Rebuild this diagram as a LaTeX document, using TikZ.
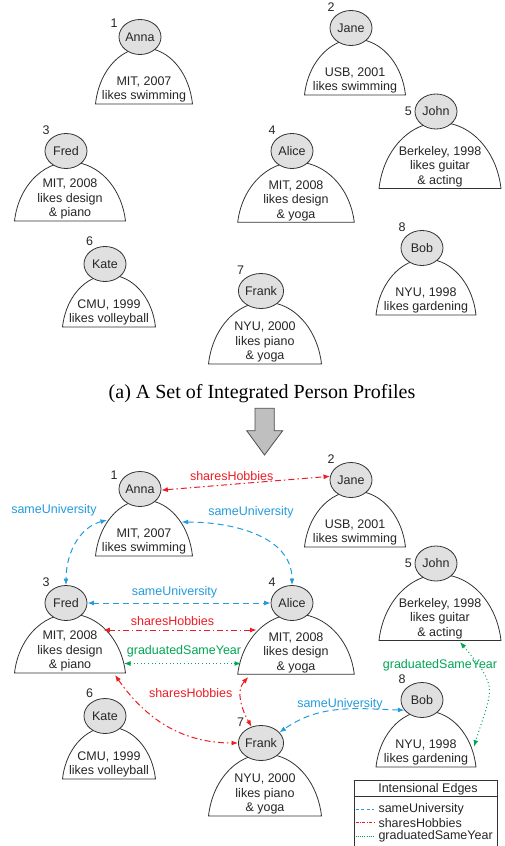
\documentclass[tikz,border=0pt]{standalone}
\usepackage{fontspec}
\setmainfont{Liberation Sans}
\newfontfamily\capfont{Liberation Serif}
\usetikzlibrary{shapes.geometric,arrows.meta}
\definecolor{uniblue}{RGB}{35,155,220}
\definecolor{hobred}{RGB}{237,28,36}
\definecolor{yeargreen}{RGB}{0,166,81}

% one profile: name, x, y, number, number angle, person, dome half width, dome bottom, dome text
\newcommand{\person}[9]{%
	\pgfmathsetmacro{\doma}{#7/cos(8)}%
	\pgfmathsetmacro{\domb}{((#8)-(#3)-11)/(1-sin(8))}%
	\draw[dome] ({#2+4-#7},{#8}) arc[start angle=172, end angle=8, x radius=\doma pt, y radius=\domb pt] -- cycle;
	\node[head, label={[num]#5:#4}] (#1) at (#2,{#3}) {#6};
	\node[info] (#1T) at ({#2+4},{#8-1.5}) {#9};
}
% the eight profiles, shifted by #2
\newcommand{\profiles}[2]{%
	\person{#1anna}{140}{489+#2}{1}{160}{Anna}{48.5}{556+#2}{MIT, 2007\\likes swimming}
	\person{#1jane}{351}{480+#2}{2}{135}{Jane}{50.5}{547+#2}{USB, 2001\\likes swimming}
	\person{#1fred}{66}{603+#2}{3}{135}{Fred}{55.5}{673+#2}{MIT, 2008\\likes design\\\& piano}
	\person{#1alice}{292}{603+#2}{4}{135}{Alice}{58.3}{674.3+#2}{MIT, 2008\\likes design\\\& yoga}
	\person{#1john}{436}{563.5+#2}{5}{180}{John}{61}{640.5+#2}{Berkeley, 1998\\likes guitar\\\& acting}
	\person{#1kate}{105}{716+#2}{6}{120}{Kate}{46.5}{779+#2}{CMU, 1999\\likes volleyball}
	\person{#1frank}{261}{743+#2}{7}{135}{Frank}{56.5}{816+#2}{NYU, 2000\\likes piano\\\& yoga}
	\person{#1bob}{422}{700+#2}{8}{135}{Bob}{50}{767+#2}{NYU, 1998\\likes gardening}
}

\begin{document}
\begin{tikzpicture}[x=1pt, y=-1pt,
		>={Latex[length=6.5pt,width=5pt]},
		every node/.style={font=\fontsize{12.5}{14.5}\selectfont, text=black!85},
		head/.style={ellipse, draw=black!80, fill=black!12, line width=0.8pt, minimum width=42pt, minimum height=35pt, inner sep=0pt},
		dome/.style={draw=black!80, fill=white, line width=0.8pt},
		info/.style={align=center, anchor=south, inner sep=0pt},
		num/.style={inner sep=2.5pt},
		uni/.style={<->, uniblue, line width=1pt, dash pattern=on 6pt off 4pt},
		hob/.style={<->, hobred, line width=1pt, dash pattern=on 6pt off 3pt on 1.5pt off 3pt},
		yr/.style={<->, yeargreen, line width=1pt, dash pattern=on 1pt off 2.6pt},
		elab/.style={inner sep=0pt}]
	\useasboundingbox (0,0) rectangle (505,846);

	% (a) profiles
	\profiles{t}{-452}
	\node[font=\capfont\fontsize{20}{24}\selectfont, text=black, anchor=base] (caption) at (262,398) {(a) A Set of Integrated Person Profiles};
	\draw[fill=black!25, draw=black!70, line width=0.8pt] (255,408.3) -- (274.3,408.3) -- (274.3,430.7) -- (282.7,430.7) -- (264.5,455) -- (246.7,430.7) -- (255,430.7) -- cycle;

	% (b) profiles with intensional edges
	\profiles{}{0}
	\coordinate (annaL) at (107,520);
	\coordinate (annaR) at (181.7,522);
	\coordinate (fredR1) at (103.3,630);
	\coordinate (fredR2) at (124,663.5);
	\coordinate (fredR3) at (115,675);
	\coordinate (aliceL1) at (256.5,630);
	\coordinate (aliceL2) at (241,663.5);
	\coordinate (aliceL3) at (248.3,677);
	\coordinate (johnB) at (460,642);
	\coordinate (bobR) at (474,746.7);

	\draw[hob] (anna.-3) -- (jane.170);
	\draw[uni] (annaL) to[out=195, in=90] (fred);
	\draw[uni] (annaR) to[out=0, in=90] (alice);
	\draw[uni] (fred) -- (alice);
	\draw[hob] (fredR1) -- (aliceL1);
	\draw[yr] (fredR2) -- (aliceL2);
	\draw[hob] (fredR3) to[out=-55, in=180] (frank);
	\draw[hob] (aliceL3) to[out=228, in=120] (frank);
	\draw[uni] (bob.210) to[out=178, in=35] (frank.30);
	\draw[yr] (johnB) to[out=-50, in=73, looseness=1.5] (bobR);

	\node[elab, text=hobred] (lab1) at (231.7,476) {sharesHobbies};
	\node[elab, text=uniblue] (lab2) at (54,510) {sameUniversity};
	\node[elab, text=uniblue] (lab3) at (251,512) {sameUniversity};
	\node[elab, text=uniblue] (lab4) at (174.5,592) {sameUniversity};
	\node[elab, text=hobred] (lab5) at (172.5,620.7) {sharesHobbies};
	\node[elab, text=yeargreen] (lab6) at (184,651) {graduatedSameYear};
	\node[elab, text=hobred] (lab7) at (190.7,692.7) {sharesHobbies};
	\node[elab, text=uniblue] (lab8) at (340,704.5) {sameUniversity};
	\node[elab, text=yeargreen] (lab9) at (440,665) {graduatedSameYear};

	% legend
	\draw[draw=black!80, line width=0.8pt] (354,780.7) rectangle (497.7,850);
	\draw[draw=black!80, line width=0.8pt] (354,796.7) -- (497.7,796.7);
	\node (legend) at (428,789) {Intensional Edges};
	\draw[uniblue, line width=0.7pt, dash pattern=on 3pt off 2.5pt] (355.5,809.3) -- (374.3,809.3);
	\draw[hobred, line width=0.7pt, dash pattern=on 3pt off 1.5pt on 0.8pt off 1.5pt] (355.5,822.7) -- (374.3,822.7);
	\draw[yeargreen, line width=0.7pt, dash pattern=on 0.8pt off 1.4pt] (355.5,836.7) -- (374.3,836.7);
	\node[anchor=west, inner sep=0pt] (legUni) at (378.3,809.3) {sameUniversity};
	\node[anchor=west, inner sep=0pt] (legHob) at (378.3,822.7) {sharesHobbies};
	\node[anchor=west, inner sep=0pt] (legYr) at (378.3,836.7) {graduatedSameYear};
\end{tikzpicture}
\end{document}
